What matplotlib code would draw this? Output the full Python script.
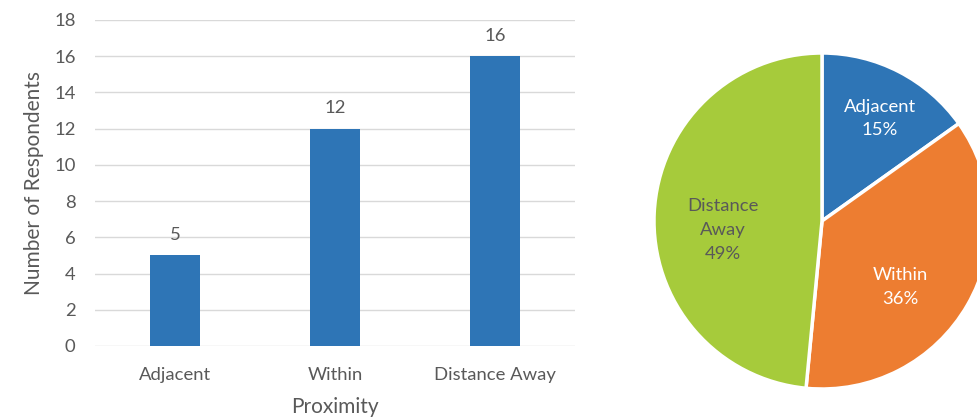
import matplotlib
matplotlib.use('Agg')
import matplotlib.pyplot as plt
import numpy as np

# Data
categories = ['Adjacent', 'Within', 'Distance Away']
respondents = [5, 12, 16]
pie_labels = ['Adjacent', 'Within', 'Distance\nAway']
y_ticks = [0, 2, 4, 6, 8, 10, 12, 14, 16, 18]

bar_color = '#2E75B6'
pie_colors = ['#2E75B6', '#ED7D31', '#A6CB3B']
pie_text_colors = ['white', 'white', '#595959']
text_gray = '#595959'
grid_gray = '#D9D9D9'

# label placement inside the wedges (radius fraction, angle shift in degrees)
label_radius = [0.70, 0.61, 0.59]
label_shift = [-2, -10, 8]

plt.rcParams['font.family'] = ['Lato', 'DejaVu Sans']


def rounded_percents(vals):
    # round to whole percents that add up to 100 (largest remainder)
    raw = 100.0 * np.asarray(vals, dtype=float) / sum(vals)
    out = np.floor(raw).astype(int)
    rest = 100 - out.sum()
    for i in np.argsort(-(raw - out))[:rest]:
        out[i] += 1
    return out


W, H = 978, 417
fig = plt.figure(figsize=(W / 100, H / 100), dpi=100)

# Bar chart
ax = fig.add_axes([95 / W, 71 / H, 480 / W, 326 / H])
x = np.arange(len(categories))
bars = ax.bar(x, respondents, width=0.31, color=bar_color, zorder=3)
ax.set_xlim(-0.5, len(categories) - 0.5)
ax.set_ylim(0, 18)
ax.set_yticks(y_ticks)
ax.set_xticks(x)
ax.set_xticklabels(categories)
ax.yaxis.grid(True, color=grid_gray, linewidth=1.0, zorder=0)
ax.set_axisbelow(True)
for s in ax.spines.values():
    s.set_visible(False)
ax.tick_params(axis='both', length=0, labelsize=13.3, labelcolor=text_gray)
ax.tick_params(axis='y', pad=14)
ax.tick_params(axis='x', pad=15)
ax.set_xlabel('Proximity', fontsize=15, color=text_gray, labelpad=10)
ax.set_ylabel('Number of Respondents', fontsize=15, color=text_gray, labelpad=7)
for b, v in zip(bars, respondents):
    ax.annotate(str(v), (b.get_x() + b.get_width() / 2, v),
                xytext=(0, 9), textcoords='offset points',
                ha='center', va='bottom', fontsize=13.3, color=text_gray)

# Pie chart (clipped by the right edge of the figure, as in the reference)
r_px = 168
cx, cy = 822, 221
pax = fig.add_axes([(cx - r_px) / W, (H - cy - r_px) / H, 2 * r_px / W, 2 * r_px / H])
wedges, _ = pax.pie(respondents, colors=pie_colors, startangle=90, counterclock=False,
                    wedgeprops=dict(edgecolor='white', linewidth=2.5))
pax.set_xlim(-1, 1)
pax.set_ylim(-1, 1)
pax.set_aspect('equal')
pax.axis('off')
pcts = rounded_percents(respondents)
for w, lab, p, tc, lr, ls in zip(wedges, pie_labels, pcts, pie_text_colors,
                                 label_radius, label_shift):
    ang = np.deg2rad((w.theta1 + w.theta2) / 2 + ls)
    px, py = lr * np.cos(ang), lr * np.sin(ang)
    pax.text(px, py, '{0}\n{1}%'.format(lab, p),
             ha='center', va='center', fontsize=13.3, color=tc, linespacing=1.6)

fig.savefig('out.png', dpi=100)
